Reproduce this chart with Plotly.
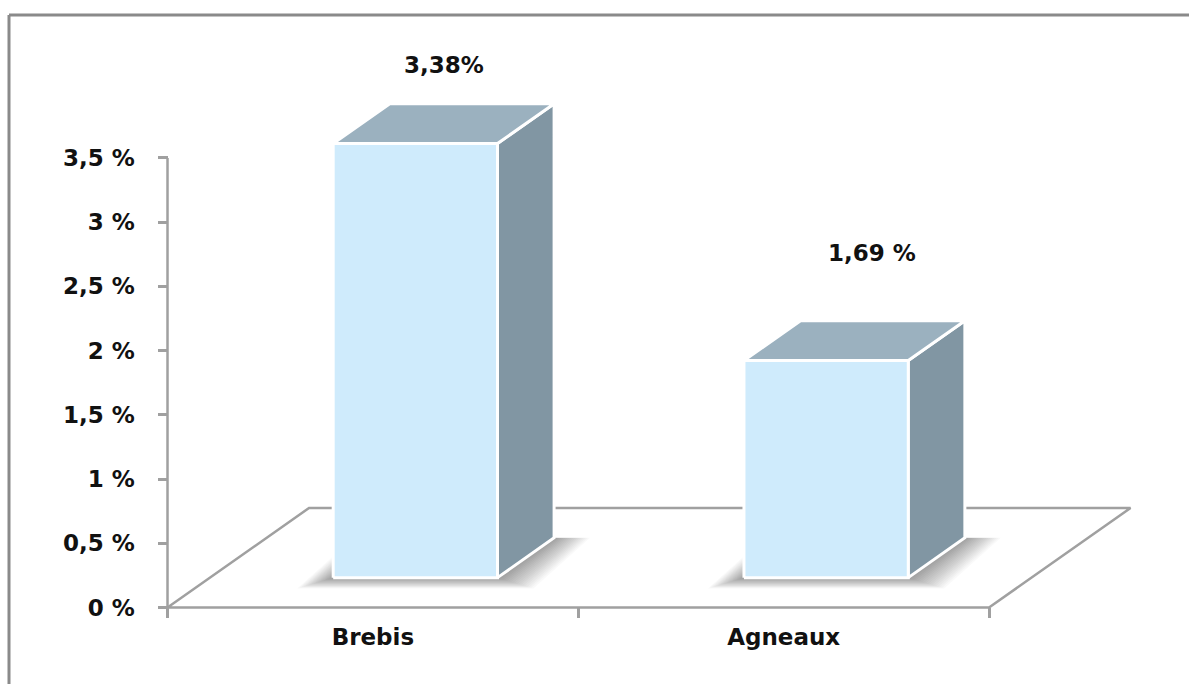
import plotly.graph_objects as go

# ---- data ----
categories = ["Brebis", "Agneaux"]
values = [3.38, 1.69]
value_labels = ["3,38%", "1,69 %"]
y_ticks = [0, 0.5, 1, 1.5, 2, 2.5, 3, 3.5]
y_tick_labels = ["0 %", "0,5 %", "1 %", "1,5 %", "2 %", "2,5 %", "3 %", "3,5 %"]

# ---- page / scale setup ----
W, H = 1189, 684
X_RANGE = [-0.9078, 1.9868]     # category index units across the page
Y_RANGE = [-0.5957, 4.730]      # percent units down the page
PX_X = (X_RANGE[1] - X_RANGE[0]) / W   # data units per pixel
PX_Y = (Y_RANGE[1] - Y_RANGE[0]) / H

# oblique projection of the depth direction (full floor depth)
DEPTH_DX = 0.3445
DEPTH_DY = 0.7747
BAR_W = 0.40
F0, F1 = 0.30, 0.70           # bar front / back as fraction of floor depth

FRONT = "#CFEBFC"
SIDE = "#8196A3"
TOP = "#9BB1BF"
AXIS_GREY = "#A0A0A0"
FONT = dict(family="DejaVu Sans", size=23, color="#111111", weight="bold")

# nudges for the value labels (pixels)
label_nudge = [(0, 59), (18, 88)]

fig = go.Figure()


def poly(xs, ys, fill, line_color="white", line_width=3):
    fig.add_trace(go.Scatter(
        x=list(xs) + [xs[0]], y=list(ys) + [ys[0]],
        mode="lines", fill="toself", fillcolor=fill,
        line=dict(color=line_color, width=line_width),
        hoverinfo="skip", showlegend=False,
    ))


# floor outline (front edge doubles as the category axis line)
n = len(categories)
fx0, fx1 = -0.5, n - 0.5
fig.add_trace(go.Scatter(
    x=[fx0, fx1, fx1 + DEPTH_DX, fx0 + DEPTH_DX, fx0],
    y=[0, 0, DEPTH_DY, DEPTH_DY, 0],
    mode="lines", line=dict(color=AXIS_GREY, width=2.5),
    hoverinfo="skip", showlegend=False,
))

# value axis line
fig.add_trace(go.Scatter(
    x=[fx0, fx0], y=[min(y_ticks), max(y_ticks)],
    mode="lines", line=dict(color=AXIS_GREY, width=2.5),
    hoverinfo="skip", showlegend=False,
))

# soft drop shadows under each column (stack of faint, growing footprints)
STEPS = 18
for i, v in enumerate(values):
    lx = i - BAR_W / 2 + F0 * DEPTH_DX
    rx = i + BAR_W / 2 + F0 * DEPTH_DX
    for k in range(1, STEPS + 1):
        ex = k * 2.0 * PX_X
        ey = k * 0.6 * PX_Y
        xs = [lx - ex, rx + ex, rx + ex + (F1 - F0) * DEPTH_DX, lx - ex + (F1 - F0) * DEPTH_DX]
        ys = [F0 * DEPTH_DY - ey, F0 * DEPTH_DY - ey, F1 * DEPTH_DY, F1 * DEPTH_DY]
        poly(xs, ys, "rgba(0,0,0,0.024)", line_color="rgba(0,0,0,0)", line_width=0)

# 3-D columns
for i, v in enumerate(values):
    lx = i - BAR_W / 2
    rx = i + BAR_W / 2
    y0f, y0b = F0 * DEPTH_DY, F1 * DEPTH_DY
    dxf, dxb = F0 * DEPTH_DX, F1 * DEPTH_DX
    # side face
    poly([rx + dxf, rx + dxb, rx + dxb, rx + dxf],
         [y0f, y0b, y0b + v, y0f + v], SIDE)
    # top face
    poly([lx + dxf, rx + dxf, rx + dxb, lx + dxb],
         [y0f + v, y0f + v, y0b + v, y0b + v], TOP)
    # front face
    poly([lx + dxf, rx + dxf, rx + dxf, lx + dxf],
         [y0f, y0f, y0f + v, y0f + v], FRONT)

# category axis ticks and labels
fig.add_trace(go.Scatter(
    x=categories, y=[0] * n, xaxis="x2", yaxis="y",
    mode="markers", marker=dict(opacity=0), hoverinfo="skip", showlegend=False,
))

# value labels above the columns
for i, (v, txt) in enumerate(zip(values, value_labels)):
    fig.add_annotation(
        x=i + 0.5 * DEPTH_DX, y=0.5 * DEPTH_DY + v,
        text=txt, showarrow=False, font=FONT,
        xanchor="center", yanchor="middle",
        xshift=label_nudge[i][0], yshift=label_nudge[i][1],
    )

# outer frame
fig.add_shape(type="line", xref="paper", yref="paper",
              x0=9 / W, x1=1.2, y0=1 - 15 / H, y1=1 - 15 / H,
              line=dict(color="#8A8A8A", width=3))
fig.add_shape(type="line", xref="paper", yref="paper",
              x0=9 / W, x1=9 / W, y0=1 - 15 / H, y1=-0.2,
              line=dict(color="#8A8A8A", width=3))

fig.update_layout(
    width=W, height=H,
    margin=dict(l=0, r=0, t=0, b=0),
    paper_bgcolor="white", plot_bgcolor="white",
    hovermode=False, showlegend=False,
    xaxis=dict(range=X_RANGE, visible=False, fixedrange=True),
    xaxis2=dict(
        type="category", overlaying="x", range=X_RANGE,
        categoryorder="array", categoryarray=categories,
        anchor="free", position=(0 - Y_RANGE[0]) / (Y_RANGE[1] - Y_RANGE[0]),
        tickson="boundaries", ticks="outside", ticklen=10, tickwidth=2.5,
        tickcolor=AXIS_GREY, showline=False, showgrid=False, zeroline=False,
        tickfont=FONT, ticklabelstandoff=14, fixedrange=True,
    ),
    yaxis=dict(
        range=Y_RANGE, anchor="free",
        position=(-0.5 - X_RANGE[0]) / (X_RANGE[1] - X_RANGE[0]),
        tickvals=y_ticks, ticktext=y_tick_labels,
        ticks="outside", ticklen=10, tickwidth=2.5, tickcolor=AXIS_GREY,
        showline=False, showgrid=False, zeroline=False,
        tickfont=FONT, ticklabelstandoff=18, fixedrange=True,
    ),
)

fig.write_html("out.html")
